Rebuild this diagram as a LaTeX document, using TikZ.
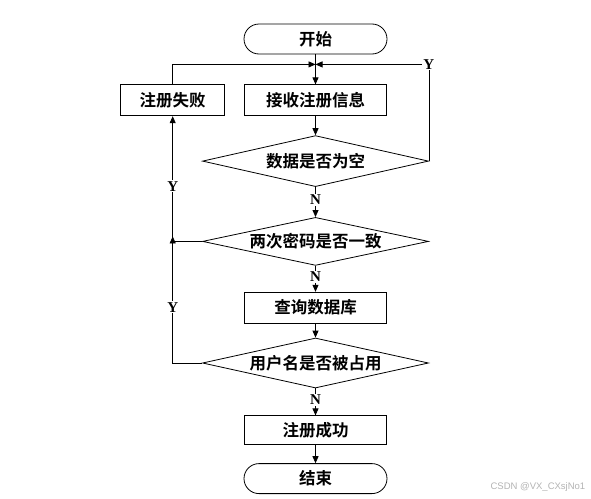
\documentclass[tikz,border=0pt]{standalone}
\usepackage{fontspec}
\setmainfont{Liberation Serif}
\newfontfamily\cjk{Noto Sans CJK SC Bold}
\newfontfamily\markfont{Liberation Sans}
\usetikzlibrary{arrows.meta,positioning,calc,shapes.geometric}
\definecolor{MarkGray}{HTML}{B4B4B4}

\begin{document}
\begin{tikzpicture}[x=1pt,y=1pt,line width=0.8pt,>={Triangle[length=7pt,width=6pt]},
 term/.style={draw,fill=white,rounded corners=15pt,minimum width=143pt,minimum height=30pt,font=\cjk\fontsize{16.5}{18}\selectfont},
 proc/.style={draw,fill=white,minimum height=31pt,inner sep=2pt,font=\cjk\fontsize{16.5}{18}\selectfont},
 cond/.style={draw,fill=white,diamond,shape aspect=5,inner sep=0pt,minimum width=226pt,font=\cjk\fontsize{16.5}{18}\selectfont},
 lbl/.style={fill=white,inner sep=1pt,font=\fontsize{15}{15}\selectfont\bfseries}]
\fill[white] (0,0) rectangle (591,-498);
\useasboundingbox (0,0) rectangle (591,-498);
% main column
\node[term] (start) at (315.5,-39) {开始};
\coordinate[below=10pt of start] (merge);
\node[proc,minimum width=142pt,below=30pt of start] (recv) {接收注册信息};
\node[proc,minimum width=104pt,left=19pt of recv] (fail) {注册失败};
\node[cond,minimum height=51pt,below=19pt of recv] (chk1) {数据是否为空};
\node[cond,minimum height=48pt,below=30pt of chk1] (chk2) {两次密码是否一致};
\node[proc,minimum width=142pt,below=26pt of chk2] (query) {查询数据库};
\node[cond,minimum height=50pt,below=14pt of query] (chk3) {用户名是否被占用};
\node[proc,minimum width=142pt,minimum height=29pt,below=27pt of chk3] (ok) {注册成功};
\node[term,below=18pt of ok] (stop) {结束};
\coordinate (join) at (fail.south |- chk2.west);
\node[font=\markfont\fontsize{9.5}{10}\selectfont,text=MarkGray,anchor=east] (mark) at (589,-487) {CSDN @VX\_CXsjNo1};
% connectors
\draw (start) -- (merge);
\draw[->] (merge) -- (recv);
\draw[->] (fail) |- (merge);
\draw[->] (recv) -- (chk1);
\draw[->] (chk1.east) |- (merge) node[lbl,pos=0.5] {Y};
\draw[->] (chk1) -- node[lbl,pos=0.42] {N} (chk2);
\draw[->] (chk2.west) -| (fail.south) node[lbl,pos=0.72] {Y};
\draw[->] (chk3.west) -| ([yshift=5pt]join) node[lbl,pos=0.72] {Y};
\draw[->] (chk2) -- node[lbl,pos=0.42] {N} (query);
\draw[->] (query) -- (chk3);
\draw[->] (chk3) -- node[lbl,pos=0.42] {N} (ok);
\draw[->] (ok) -- (stop);
\end{tikzpicture}
\end{document}
